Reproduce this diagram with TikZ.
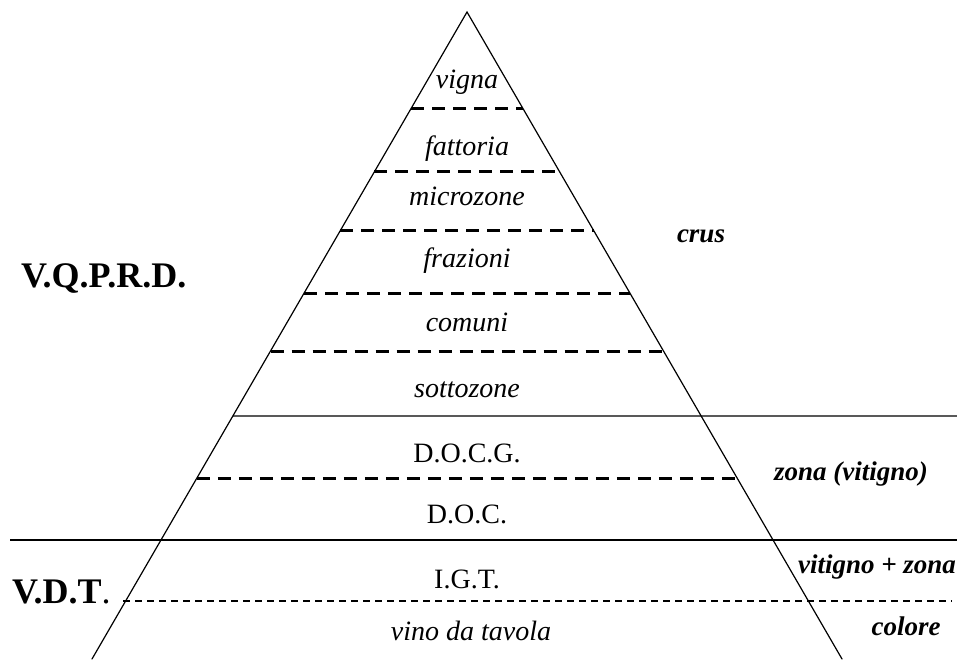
\documentclass[tikz,border=0pt]{standalone}
\usepackage{fontspec}
\setmainfont{Liberation Serif}
\usetikzlibrary{calc}
\tikzset{
  side/.style={line width=1.2pt, line cap=round},
  rule/.style={line width=1.2pt},
  bigdash/.style={line width=3pt, dash pattern=on 13pt off 8pt},
  smalldash/.style={line width=2pt, dash pattern=on 7pt off 5pt},
  layer/.style={anchor=base, inner sep=0pt, font=\fontsize{28}{30}\selectfont\itshape},
  plain/.style={anchor=base, inner sep=0pt, font=\fontsize{28}{30}\selectfont},
  note/.style={anchor=base, inner sep=0pt, font=\fontsize{27}{29}\selectfont\bfseries\itshape},
  class/.style={anchor=base west, inner sep=0pt, font=\fontsize{36}{38}\selectfont\bfseries},
}
% dashed rung across the pyramid at height #2 (distance from the top edge)
\newcommand{\pyrrung}[2]{%
  \draw[#1] ($(apex)!{(#2-12)/647}!(bl)$) -- ($(apex)!{(#2-12)/647}!(br)$);}
\begin{document}
\begin{tikzpicture}[x=1pt,y=-1pt]
  \useasboundingbox (0,0) rectangle (957,659);
  % pyramid
  \coordinate (apex) at (467,12);
  \coordinate (bl) at (92,659);
  \coordinate (br) at (842,659);
  \draw[side] (bl) -- (apex) -- (br);
  % inner levels
  \pyrrung{bigdash}{108}
  \pyrrung{bigdash}{172}
  \pyrrung{bigdash}{231}
  \pyrrung{bigdash}{293}
  \pyrrung{bigdash}{351}
  \pyrrung{bigdash}{478}
  % class boundaries
  \coordinate (r1a) at ($(apex)!{(416-12)/647}!(bl)$);
  \coordinate (r1b) at (957,416);
  \draw[rule] (r1a) -- (r1b);
  \coordinate (r2a) at (10,540);
  \coordinate (r2b) at (957,540);
  \draw[rule] (r2a) -- (r2b);
  \coordinate (r3a) at (123,601);
  \coordinate (r3b) at (952,601);
  \draw[smalldash] (r3a) -- (r3b);
  % level names
  \node[layer] (vigna) at (467,88) {vigna};
  \node[layer] (fattoria) at (467,155) {fattoria};
  \node[layer] (microzone) at (467,205) {microzone};
  \node[layer] (frazioni) at (467,267) {frazioni};
  \node[layer] (comuni) at (467,331) {comuni};
  \node[layer] (sottozone) at (467,397) {sottozone};
  \node[plain] (docg) at (467,462) {D.O.C.G.};
  \node[plain] (doc) at (467,523) {D.O.C.};
  \node[plain] (igt) at (467,588) {I.G.T.};
  \node[layer] (vdtav) at (471,640) {vino da tavola};
  % notes on the right
  \node[note] (crus) at (701,242) {crus};
  \node[note] (zona) at (851,480) {zona (vitigno)};
  \node[note] (vitzona) at (877,573) {vitigno + zona};
  \node[note] (colore) at (906,635) {colore};
  % classes on the left
  \node[class] (vqprd) at (21,287) {V.Q.P.R.D.};
  \node[class] (vdt) at (12,603) {V.D.T\textmd{.}};
\end{tikzpicture}
\end{document}
